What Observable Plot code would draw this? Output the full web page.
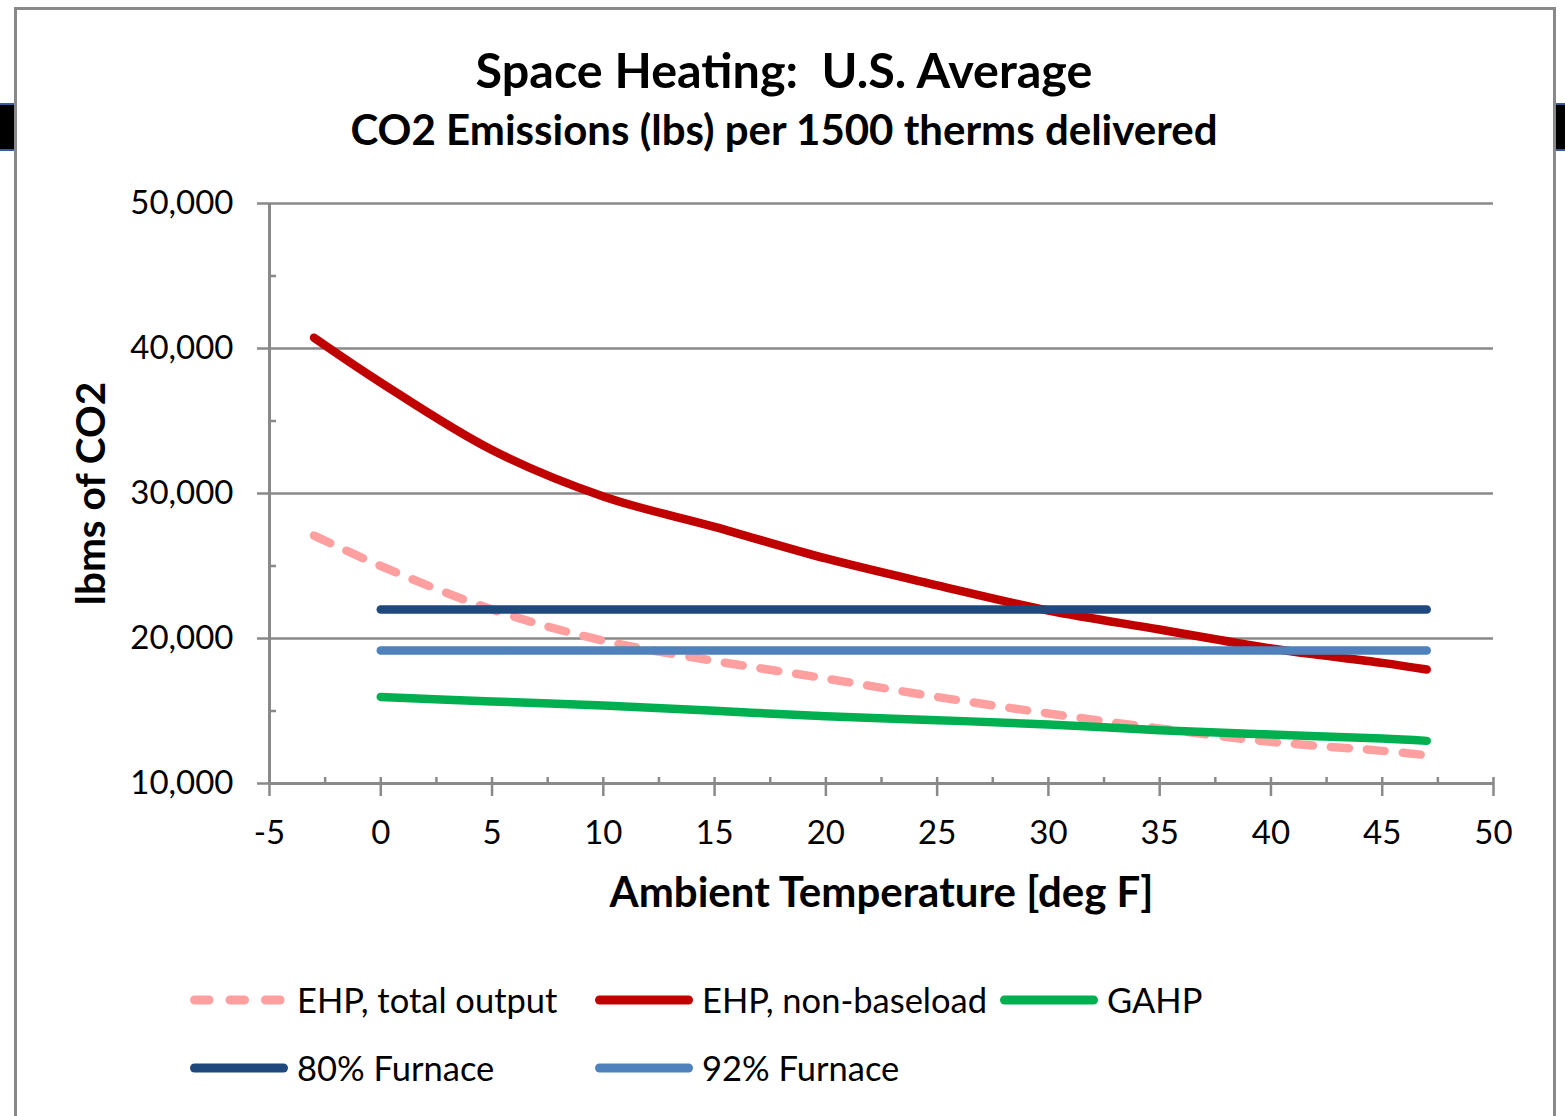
<!DOCTYPE html>
<html>
<head>
<meta charset="utf-8">
<script src="https://cdn.jsdelivr.net/npm/d3@7"></script>
<script src="https://cdn.jsdelivr.net/npm/@observablehq/plot@0.6"></script>
<style>
  html, body { margin: 0; padding: 0; background: #fff; }
  body { font-family: Lato, "Open Sans", sans-serif; color: #000; }
  #page { position: relative; width: 1565px; height: 1116px; overflow: hidden; background: #fff; }
  #frame { position: absolute; left: 14px; top: 7px; width: 1536px; height: 1200px; border: 3px solid #898989; box-sizing: content-box; }
  .tab { position: absolute; top: 103px; height: 44px; background: #000; border-top: 2px solid #3b5c9c; border-bottom: 2px solid #3b5c9c; }
  .ttl { position: absolute; left: 15px; width: 1538px; text-align: center; font-weight: bold; white-space: nowrap; line-height: 1; }
  #title { top: 45px; font-size: 48.5px; }
  #subtitle { top: 108px; font-size: 42px; }
  #chart { position: absolute; left: 0; top: 180px; }
  .leg { position: absolute; display: flex; align-items: center; font-size: 34.5px; white-space: nowrap; line-height: 1; }
  .leg svg { display: block; margin-right: 9px; }
</style>
</head>
<body>
<div id="page">
  <div class="tab" style="left:0;width:14px;"></div>
  <div class="tab" style="left:1556px;width:9px;"></div>
  <div id="frame"></div>
  <div class="ttl" id="title">Space Heating:&nbsp; U.S. Average</div>
  <div class="ttl" id="subtitle">CO2 Emissions (lbs) per 1500 therms delivered</div>
  <div id="chart"></div>
  <div id="legend"></div>
</div>
<script>
// ---- data ----
const temps        = [-3, 0, 5, 10, 15, 20, 25, 30, 35, 40, 45, 47];
const ehpTotal     = [27100, 25000, 22000, 19850, 18450, 17240, 15970, 14830, 13790, 12870, 12250, 11950];
const ehpNonBase   = [40740, 37650, 33000, 29800, 27700, 25520, 23670, 21930, 20620, 19310, 18320, 17860];
const gahpTemps    = [0, 5, 10, 15, 20, 25, 30, 35, 40, 45, 47];
const gahp         = [15970, 15660, 15380, 15010, 14640, 14370, 14070, 13680, 13380, 13100, 12940];
const furnaceTemps = [0, 47];
const furnace80    = [22000, 22000];
const furnace92    = [19170, 19170];

const seriesNames  = ["EHP, total output", "EHP, non-baseload", "GAHP", "80% Furnace", "92% Furnace"];
const seriesColors = ["#FF9F9F", "#C00000", "#00B050", "#1F497D", "#4F81BD"];
const seriesDash   = ["18,18", null, null, null, null];

const yMajor = [10000, 20000, 30000, 40000, 50000];
const yMinor = [15000, 25000, 35000, 45000];
const xMajor = [-5, 0, 5, 10, 15, 20, 25, 30, 35, 40, 45, 50];
const xMinor = [-2.5, 2.5, 7.5, 12.5, 17.5, 22.5, 27.5, 32.5, 37.5, 42.5, 47.5];

const xTitle = "Ambient Temperature [deg F]";
const yTitle = "lbms of CO2";

// ---- build table ----
const rows = [];
temps.forEach((t, i) => rows.push({series: seriesNames[0], t, v: ehpTotal[i]}));
temps.forEach((t, i) => rows.push({series: seriesNames[1], t, v: ehpNonBase[i]}));
gahpTemps.forEach((t, i) => rows.push({series: seriesNames[2], t, v: gahp[i]}));
furnaceTemps.forEach((t, i) => rows.push({series: seriesNames[3], t, v: furnace80[i]}));
furnaceTemps.forEach((t, i) => rows.push({series: seriesNames[4], t, v: furnace92[i]}));

const axisGray = "#898989";
const lineMarks = seriesNames.map((name, i) =>
  Plot.line(rows.filter(d => d.series === name), {
    x: "t", y: "v",
    stroke: seriesColors[i],
    strokeWidth: 8.5,
    strokeLinecap: "round",
    strokeLinejoin: "round",
    strokeDasharray: seriesDash[i] || undefined,
    curve: "catmull-rom"
  })
);

const chart = Plot.plot({
  width: 1565,
  height: 760,
  marginTop: 23,
  marginBottom: 157,
  marginLeft: 269,
  marginRight: 72,
  style: {fontFamily: "Lato, 'Open Sans', sans-serif", fontSize: "33px", color: "#000", background: "transparent", overflow: "visible"},
  x: {domain: [-5, 50], label: null},
  y: {domain: [10000, 50000], label: null},
  marks: [
    Plot.gridY(yMajor, {stroke: axisGray, strokeOpacity: 1, strokeWidth: 2.5}),
    Plot.axisY(yMajor, {tickSize: 12, tickPadding: 24, stroke: axisGray, strokeWidth: 2.5, fill: "#000", tickFormat: d3.format(","), fontSize: 33}),
    Plot.axisY(yMinor, {tickSize: 7, dx: 7, stroke: axisGray, strokeWidth: 2.5, tickFormat: () => ""}),
    Plot.axisX(xMajor, {tickSize: 19, dy: -6, tickPadding: 24, stroke: axisGray, strokeWidth: 2.5, fill: "#000", tickFormat: d => String(d), fontSize: 33}),
    Plot.axisX(xMinor, {tickSize: 6, dy: -6, stroke: axisGray, strokeWidth: 2.5, tickFormat: () => ""}),
    Plot.ruleX([-5], {stroke: axisGray, strokeWidth: 3}),
    Plot.ruleY([10000], {stroke: axisGray, strokeWidth: 3}),
    ...lineMarks,
    Plot.text([xTitle], {frameAnchor: "bottom", dy: 110, fontSize: 42, fontWeight: "bold", fill: "#000", lineAnchor: "middle", textAnchor: "middle"}),
    Plot.text([yTitle], {frameAnchor: "left", dx: -177, rotate: -90, fontSize: 40.5, fontWeight: "bold", fill: "#000", lineAnchor: "middle", textAnchor: "middle"})
  ]
});
document.getElementById("chart").appendChild(chart);

// ---- legend ----
const legendPos = [[186, 983], [591, 983], [996, 983], [186, 1051], [591, 1051]];
const legend = document.getElementById("legend");
seriesNames.forEach((name, i) => {
  const item = document.createElement("div");
  item.className = "leg";
  item.style.left = legendPos[i][0] + "px";
  item.style.top = legendPos[i][1] + "px";
  item.style.height = "34px";
  const svg = d3.create("svg").attr("width", 102).attr("height", 20);
  svg.append("line")
    .attr("x1", 8.5).attr("x2", 97.5).attr("y1", 10).attr("y2", 10)
    .attr("stroke", seriesColors[i]).attr("stroke-width", 9)
    .attr("stroke-linecap", "round")
    .attr("stroke-dasharray", seriesDash[i] ? "14.5,21" : null);
  item.appendChild(svg.node());
  const span = document.createElement("span");
  span.textContent = name;
  item.appendChild(span);
  legend.appendChild(item);
});
</script>
</body>
</html>
